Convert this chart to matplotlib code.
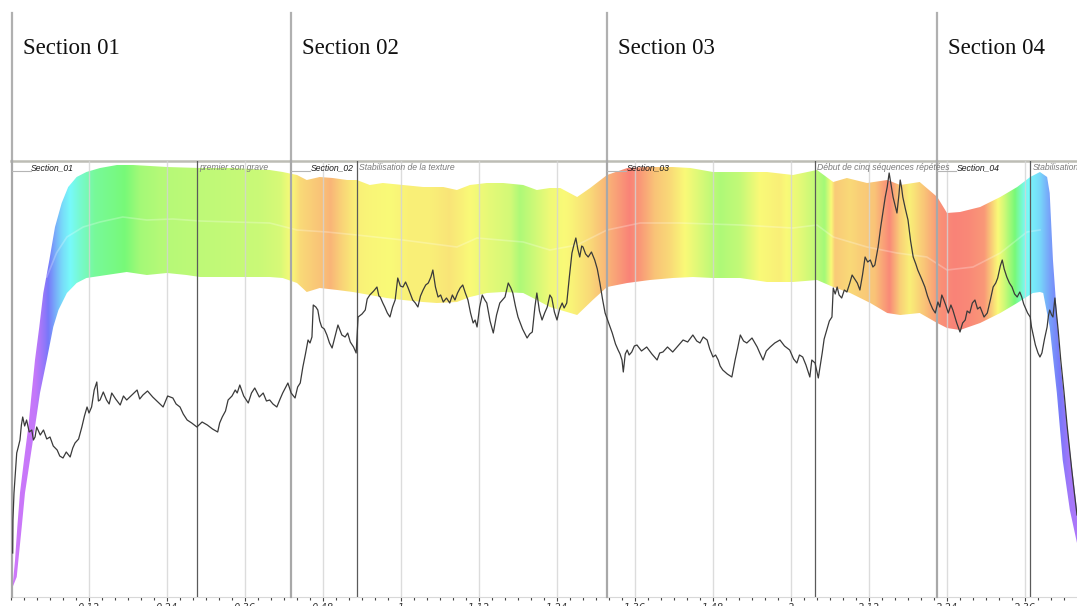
import numpy as np
import matplotlib.pyplot as plt
from matplotlib.colors import hsv_to_rgb
from matplotlib.patches import Polygon

# time axis in seconds, levels in arbitrary units (0 = bottom of the view)
t_max = 164
level_max = 436

sections = ["Section 01", "Section 02", "Section 03", "Section 04"]
section_tags = ["Section_01", "Section_02", "Section_03", "Section_04"]
section_start = [0.1, 43.1, 91.7, 142.5]

markers = ["premier son grave", "Stabilisation de la texture",
           "Début de cinq séquences répétées", "Stabilisation"]
marker_time = [28.6, 53.2, 123.7, 156.8]

tick_sec = [12, 24, 36, 48, 60, 72, 84, 96, 108, 120, 132, 144, 156]
tick_labels = ["0:12", "0:24", "0:36", "0:48", "1", "1:12", "1:24",
               "1:36", "1:48", "2", "2:12", "2:24", "2:36"]

# upper edge of the coloured band
upper_t = [0.26, 0.62, 0.97, 1.38, 2.0, 2.66, 3.18, 3.69, 4.35, 4.97, 5.9, 6.77, 7.8,
           8.8, 10.1, 11.6, 13.7, 16.3, 18.8, 24.0, 29.1, 34.2, 39.8, 41.8, 44.0, 45.5,
           47.5, 49.5, 51.7, 53.2, 55.2, 57.2, 60.3, 63.4, 66.5, 68.6, 70.6, 73.2, 75.7,
           78.8, 80.9, 82.9, 84.5, 87.1, 89.1, 91.7, 94.8, 97.8, 101.8, 104.5, 108.0,
           112.2, 116.3, 120.3, 124.0, 126.5, 128.6, 131.7, 134.8, 136.8, 139.8, 142.5,
           144.0, 146.0, 149.1, 152.2, 154.8, 156.8, 158.3, 159.4, 159.8, 160.3, 161.4,
           162.5, 164.0, 165.0]
upper_v = [12, 37, 70, 104, 137, 170, 204, 237, 270, 304, 337, 370, 394,
           410, 420, 425, 429, 432, 432, 430, 429, 429, 427, 425, 422, 417,
           420, 419, 417, 417, 412, 414, 412, 410, 410, 407, 412, 414, 414,
           412, 407, 409, 409, 400, 409, 422, 429, 430, 430, 429, 425,
           425, 425, 422, 427, 415, 419, 414, 417, 412, 415, 400,
           384, 385, 390, 400, 410, 420, 425, 420, 404, 337, 237,
           170, 87, 40]

# lower edge of the coloured band
lower_t = [0.26, 0.88, 1.65, 2.15, 2.92, 3.69, 4.46, 5.5, 6.5, 7.3, 8.6, 10.1, 11.6,
           14.7, 17.8, 20.9, 24.0, 27.0, 29.1, 34.2, 39.8, 41.8, 44.0, 45.5, 47.5, 50.2,
           52.6, 55.2, 57.8, 60.3, 63.4, 65.5, 68.6, 70.6, 73.2, 75.7, 78.8, 80.9, 82.9,
           84.5, 87.1, 89.5, 91.7, 94.8, 98.3, 101.8, 104.9, 108.0, 112.2, 116.3, 120.3,
           124.0, 126.5, 129.1, 132.2, 134.8, 136.8, 139.8, 142.5, 144.0, 146.0, 149.1,
           152.2, 154.8, 157.2, 158.3, 158.8, 159.8, 160.9, 161.8, 162.9, 164.0, 165.0]
lower_v = [10, 20, 70, 104, 137, 170, 204, 237, 270, 287, 304, 314, 319,
           322, 325, 322, 324, 322, 320, 320, 320, 319, 314, 305, 309, 307,
           305, 302, 299, 297, 295, 294, 295, 300, 304, 305, 304, 297, 290,
           287, 282, 297, 310, 314, 317, 319, 320, 319, 319, 315, 315,
           317, 310, 304, 294, 284, 282, 284, 274, 269, 267, 274,
           284, 294, 304, 305, 304, 270, 204, 137, 87, 54, 30]

# faint centre line of the band
centre_t = [5.5, 7.0, 8.6, 11.1, 13.7, 17.2, 20.9, 24.9, 29.1, 34.2, 39.8, 44.0, 48.6,
            53.2, 60.3, 68.6, 71.7, 78.8, 82.9, 87.1, 91.7, 96.8, 102.9, 112.2, 120.3,
            124.0, 126.5, 131.7, 136.3, 140.9, 144.0, 148.0, 152.2, 156.3, 158.3]
centre_v = [320, 344, 360, 370, 375, 380, 377, 378, 376, 375, 374, 367, 365,
            362, 357, 350, 359, 355, 347, 352, 367, 374, 374, 372, 369,
            372, 360, 350, 344, 340, 327, 330, 344, 365, 367]

# colour of the band (hue in degrees) along time
hue_t = [0.15, 3.7, 5.2, 6.8, 7.8, 9.1, 10.6, 12.9, 15.2, 17.5, 19.8, 22.9, 28.3, 33.7,
         38.3, 41.4, 42.9, 44.5, 47.5, 49.1, 50.6, 52.9, 55.2, 58.3, 61.4, 64.5, 67.5,
         70.6, 73.7, 76.8, 78.3, 80.6, 82.9, 86.0, 89.1, 91.4, 93.7, 95.2, 96.8, 99.1,
         101.4, 104.5, 106.8, 109.1, 112.2, 115.2, 118.3, 121.4, 123.7, 125.2, 126.8,
         129.1, 130.6, 132.9, 135.2, 136.8, 138.3, 140.6, 142.9, 145.2, 147.5, 149.8,
         151.4, 152.9, 154.5, 156.0, 158.3, 159.8, 161.4, 162.9, 165.0]
hue_deg = [280, 275, 250, 215, 195, 180, 160, 135, 128, 120, 100, 92, 88, 85,
           82, 76, 62, 45, 35, 28, 40, 55, 58, 60, 55, 55, 50,
           60, 70, 78, 95, 80, 65, 58, 45, 30, 15, 5, 15, 35,
           45, 65, 80, 95, 85, 60, 55, 70, 85, 100, 38,
           45, 40, 35, 8, 40, 55, 35, 12, 5, 8, 15,
           50, 80, 120, 175, 195, 220, 240, 260, 268]

# black level curve
line_t = [0.26, 0.3, 0.46, 0.88, 1.12, 1.38, 1.6, 1.8, 2.1, 2.4, 2.8, 3.2, 3.45, 3.7,
          3.95, 4.5, 5.0, 5.5, 6.0, 6.5, 7.1, 7.5, 8.0, 8.5, 9.1, 9.5, 9.85, 10.4, 10.9,
          11.3, 11.7, 12.0, 12.4, 12.8, 13.2, 13.45, 13.7, 14.2, 14.7, 15.1, 15.5, 16.1,
          16.8, 17.3, 17.8, 18.6, 19.4, 19.8, 20.3, 21.0, 21.8, 22.6, 23.4, 24.1, 24.9,
          25.4, 26.0, 26.5, 27.1, 27.8, 28.6, 29.4, 30.2, 31.0, 31.8, 32.1, 32.5, 33.0,
          33.4, 34.0, 34.5, 34.8, 35.2, 35.8, 36.5, 37.0, 37.5, 38.2, 38.8, 39.3, 39.8,
          40.3, 40.9, 41.4, 41.8, 42.2, 42.6, 43.1, 43.7, 44.1, 44.5, 44.9, 45.3, 45.7,
          46.0, 46.3, 46.5, 46.9, 47.2, 47.5, 47.8, 48.2, 48.6, 49.0, 49.4, 49.9, 50.3,
          50.9, 51.4, 51.8, 52.2, 52.7, 53.1, 53.4, 54.0, 54.5, 54.8, 55.2, 55.8, 56.3,
          56.6, 56.8, 57.2, 57.5, 57.9, 58.3, 58.7, 59.1, 59.5, 59.9, 60.3, 60.7, 61.1,
          61.5, 61.8, 62.2, 62.6, 63.0, 63.4, 63.8, 64.2, 64.6, 64.9, 65.3, 65.7, 66.1,
          66.5, 67.0, 67.5, 67.9, 68.3, 68.7, 69.1, 69.5, 69.9, 70.3, 70.7, 71.1, 71.4,
          71.7, 72.1, 72.5, 72.9, 73.2, 73.7, 74.2, 74.7, 75.2, 75.6, 76.0, 76.5, 76.9,
          77.2, 77.6, 78.0, 78.7, 79.4, 79.8, 80.2, 80.6, 80.9, 81.3, 81.7, 82.1, 82.5,
          82.9, 83.2, 83.6, 84.0, 84.4, 84.8, 85.1, 85.5, 85.9, 86.3, 86.6, 86.9, 87.2,
          87.5, 87.8, 88.0, 88.4, 88.8, 89.3, 89.8, 90.2, 90.6, 91.0, 91.4, 92.0, 92.5,
          93.0, 93.4, 93.7, 94.0, 94.2, 94.5, 94.8, 95.1, 95.5, 95.9, 96.3, 97.0, 97.8,
          98.6, 99.4, 99.8, 100.3, 101.0, 101.8, 102.6, 103.4, 104.1, 104.9, 105.5,
          106.0, 106.5, 107.1, 107.5, 108.0, 108.4, 108.8, 109.1, 109.5, 110.2, 110.9,
          111.4, 111.8, 112.2, 112.7, 113.2, 114.0, 114.8, 115.2, 115.7, 116.2, 116.8,
          117.5, 118.3, 119.0, 119.8, 120.4, 120.9, 121.3, 121.8, 122.3, 122.9, 123.2,
          123.7, 124.2, 124.8, 125.1, 125.5, 125.9, 126.3, 126.5, 126.8, 127.1, 127.4,
          127.8, 128.2, 128.6, 129.0, 129.4, 129.8, 130.2, 130.6, 131.0, 131.4, 131.8,
          132.2, 132.6, 132.9, 133.2, 133.4, 133.8, 134.2, 134.5, 134.8, 135.1, 135.4,
          135.7, 136.0, 136.3, 136.6, 136.8, 137.0, 137.2, 137.6, 138.0, 138.4, 138.8,
          139.2, 139.5, 140.1, 140.6, 141.0, 141.4, 141.8, 142.2, 142.6, 142.9, 143.2,
          143.4, 143.8, 144.2, 144.6, 144.9, 145.5, 146.0, 146.4, 146.8, 147.1, 147.5,
          147.9, 148.3, 148.7, 149.1, 149.7, 150.2, 150.7, 151.1, 151.5, 151.8, 152.2,
          152.5, 152.8, 153.2, 153.6, 154.0, 154.4, 154.8, 155.2, 155.5, 155.8, 156.0,
          156.4, 156.8, 157.0, 157.2, 157.6, 158.0, 158.3, 158.6, 159.0, 159.4, 159.6,
          159.8, 160.1, 160.3, 160.6, 160.9, 161.1, 161.5, 162.0, 162.5, 162.9, 163.2,
          163.6, 164.0]
line_v = [44, 77, 104, 144, 150, 157, 172, 180, 171, 177, 165, 167, 157, 160,
          170, 162, 167, 158, 160, 151, 147, 141, 139, 145, 140, 149, 154, 158, 170,
          181, 190, 184, 190, 207, 215, 196, 197, 205, 197, 193, 204, 198,
          192, 201, 197, 202, 207, 198, 202, 206, 200, 195, 190, 201, 199,
          193, 190, 183, 177, 174, 170, 175, 172, 168, 165, 174, 180, 186,
          197, 201, 207, 204, 212, 201, 194, 204, 209, 200, 204, 196, 197,
          193, 190, 198, 204, 209, 214, 204, 199, 210, 214, 230, 243, 257,
          254, 260, 292, 290, 287, 276, 270, 268, 262, 254, 249, 262, 272,
          262, 260, 264, 255, 250, 244, 280, 283, 287, 298, 302, 306, 310,
          301, 300, 294, 290, 284, 280, 290, 297, 319, 311, 310, 315, 309,
          302, 297, 294, 290, 301, 307, 312, 314, 320, 327, 310, 300, 302,
          295, 299, 294, 302, 297, 304, 309, 312, 304, 297, 284, 274, 277,
          270, 290, 302, 297, 294, 276, 264, 282, 294, 297, 300, 314, 309,
          304, 291, 280, 268, 259, 263, 265, 290, 304, 286, 277, 284, 290,
          302, 299, 285, 277, 288, 294, 289, 294, 320, 344, 352, 359, 348,
          340, 351, 350, 343, 340, 345, 337, 328, 314, 298, 284, 273, 264,
          253, 247, 243, 237, 225, 243, 247, 242, 245, 251, 252, 246, 250,
          243, 237, 244, 245, 250, 245, 251, 257, 255, 262, 256,
          254, 260, 257, 248, 240, 242, 237, 231, 227, 223, 220,
          237, 249, 262, 256, 254, 259, 250, 244, 237, 246, 250,
          254, 257, 251, 247, 238, 234, 242, 240, 232, 220, 237,
          234, 219, 244, 258, 267, 276, 280, 309, 303, 310, 302,
          299, 307, 305, 313, 322, 318, 314, 307, 322, 340, 335,
          337, 330, 332, 343, 350, 370, 387, 400, 410, 424, 412,
          400, 392, 384, 402, 417, 410, 400, 388, 377, 356, 340,
          333, 327, 318, 310, 301, 294, 288, 284, 295, 290, 302,
          299, 292, 284, 292, 287, 274, 265, 274, 277, 286, 284,
          294, 297, 288, 290, 280, 284, 298, 310, 314, 319, 331,
          337, 328, 320, 314, 310, 303, 300, 305, 300, 293, 290,
          284, 280, 270, 264, 252, 244, 240, 244, 258, 270, 281,
          287, 282, 280, 299, 280, 267, 237, 205, 170, 145, 127,
          104, 82]

W, H = 1077, 606
fig = plt.figure(figsize=(W / 100, H / 100), dpi=100)
fig.patch.set_facecolor("white")

ax_pos = [11 / W, 9 / H, 1066 / W, 436 / H]

# header strip with section names
hx = fig.add_axes([ax_pos[0], ax_pos[1] + ax_pos[3], ax_pos[2], 161 / H])
hx.set_xlim(0, t_max)
hx.set_ylim(0, 1)
hx.axis("off")
for name, s in zip(sections, section_start):
    hx.plot([s, s], [0, 0.92], color="#b0b0b0", lw=1.6, clip_on=False)
    hx.annotate(name, xy=(s, 0.70), xytext=(8, 0), textcoords="offset points",
                va="center", ha="left", fontsize=16.5, family="Liberation Serif",
                color="#111111")

# main view
ax = fig.add_axes(ax_pos)

tt = np.linspace(0, t_max + 1, 1400)
hue = np.interp(tt, hue_t, hue_deg) / 360.0
hsv = np.stack([hue, np.full_like(hue, 0.52), np.full_like(hue, 0.98)], axis=-1)
rgb = hsv_to_rgb(hsv)[None, :, :]
im = ax.imshow(rgb, extent=(0, t_max + 1, 0, level_max), aspect="auto",
               interpolation="bilinear", zorder=1)
band = Polygon(np.column_stack([np.r_[upper_t, lower_t[::-1]],
                                np.r_[upper_v, lower_v[::-1]]]),
               closed=True, facecolor="none", edgecolor="none")
ax.add_patch(band)
im.set_clip_path(band)

ax.plot(centre_t, centre_v, color="white", alpha=0.25, lw=1.2, zorder=2)

for t in tick_sec:
    ax.axvline(t, color="#d4d4d4", lw=1, alpha=0.8, zorder=3)
for t in marker_time:
    ax.axvline(t, color="#5a5a5a", lw=0.9, zorder=4)
for s in section_start:
    ax.axvline(s, color="#a8a8a8", lw=1.6, zorder=4, clip_on=False)

ax.plot(line_t, line_v, color="#3a3a3a", lw=0.9, zorder=5)

# labels along the top of the view
for tag, s in zip(section_tags, section_start):
    ax.plot([s, s + 2.9], [425.5, 425.5], color="#b5b5b5", lw=0.8, zorder=6)
    ax.annotate(tag, xy=(s, 429), xytext=(14, 0), textcoords="offset points",
                va="center", ha="left", fontsize=6.2, style="italic",
                family="Liberation Sans", color="#1a1a1a", zorder=7)
for name, t in zip(markers, marker_time):
    ax.annotate(name, xy=(t, 429), xytext=(1.5, 0), textcoords="offset points",
                va="center", ha="left", fontsize=6.2, style="italic",
                family="Liberation Sans", color="#7a7a7a", zorder=7,
                annotation_clip=False)

ax.set_xlim(0, t_max)
ax.set_ylim(0, level_max)
ax.set_yticks([])
ax.set_xticks(tick_sec)
ax.set_xticklabels(tick_labels, fontsize=7, style="italic", color="#333333")
ax.set_xticks(np.arange(0, t_max, 2), minor=True)
ax.tick_params(axis="x", which="major", length=3, width=0.8, color="#444444", pad=1)
ax.tick_params(axis="x", which="minor", length=2, width=0.8, color="#444444")
for side in ["left", "right"]:
    ax.spines[side].set_visible(False)
ax.spines["top"].set_color("#bdbdb5")
ax.spines["top"].set_linewidth(1.8)
ax.spines["bottom"].set_color("#d8d8d8")
ax.spines["bottom"].set_linewidth(0.8)

fig.savefig("out.png", dpi=100)
